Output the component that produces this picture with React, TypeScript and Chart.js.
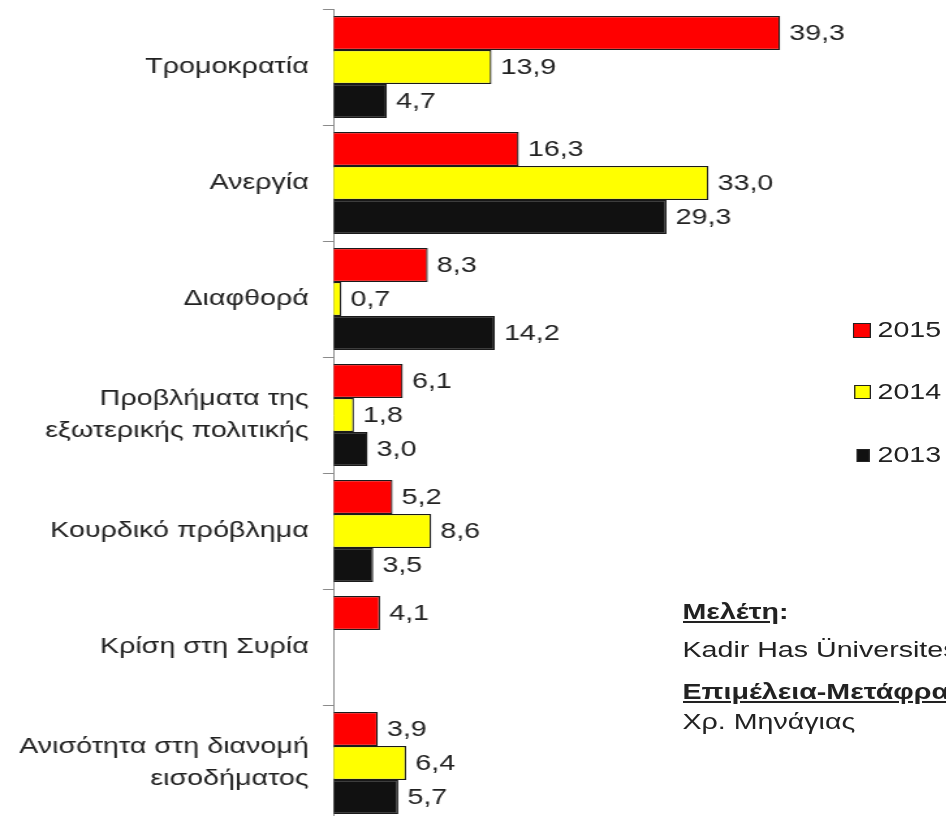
import React, { useEffect, useRef } from "react";
import { Chart, registerables } from "chart.js";

Chart.register(...registerables);

const categories: (string | string[])[] = [
  "Τρομοκρατία",
  "Ανεργία",
  "Διαφθορά",
  ["Προβλήματα της", "εξωτερικής πολιτικής"],
  "Κουρδικό πρόβλημα",
  "Κρίση στη Συρία",
  ["Ανισότητα στη διανομή", "εισοδήματος"],
];
const series2015: (number | null)[] = [39.3, 16.3, 8.3, 6.1, 5.2, 4.1, 3.9];
const series2014: (number | null)[] = [13.9, 33.0, 0.7, 1.8, 8.6, null, 6.4];
const series2013: (number | null)[] = [4.7, 29.3, 14.2, 3.0, 3.5, null, 5.7];
const seriesNames = ["2015", "2014", "2013"];
const seriesColors = ["#ff0000", "#ffff00", "#111111"];

const S = 1.3; // horizontal stretch of the reference
const W = 946 / S;
const FONT = "'Liberation Sans', Arial, sans-serif";

const valueLabels = {
  id: "valueLabels",
  afterDatasetsDraw(chart: any) {
    const ctx = chart.ctx;
    ctx.save();
    ctx.font = `22px ${FONT}`;
    ctx.fillStyle = "#222";
    ctx.textAlign = "left";
    ctx.textBaseline = "middle";
    chart.data.datasets.forEach((ds: any, di: number) => {
      const meta = chart.getDatasetMeta(di);
      meta.data.forEach((bar: any, i: number) => {
        const v = ds.data[i];
        if (v === null || v === undefined) return;
        const txt = v.toFixed(1).replace(".", ",");
        ctx.fillText(txt, bar.x + 7, bar.y + 1);
      });
    });
    ctx.restore();
  },
};

function App() {
  const ref = useRef<HTMLCanvasElement | null>(null);
  useEffect(() => {
    if (!ref.current) return;
    const chart = new Chart(ref.current, {
      type: "bar",
      data: {
        labels: categories,
        datasets: [series2015, series2014, series2013].map((d, i) => ({
          label: seriesNames[i],
          data: d,
          backgroundColor: seriesColors[i],
          borderColor: "#1a1a1a",
          borderWidth: 1.3,
          categoryPercentage: 0.88,
          barPercentage: 1.0,
        })),
      },
      options: {
        indexAxis: "y",
        animation: false,
        responsive: true,
        maintainAspectRatio: false,
        layout: { padding: { top: 9, right: 35, left: 0, bottom: 0 } },
        plugins: {
          legend: { display: false },
          tooltip: { enabled: false },
        },
        scales: {
          x: { display: false, min: 0, max: 50 },
          y: {
            afterFit: (s: any) => {
              s.width = 333 / S;
              s.paddingTop = 0;
              s.paddingBottom = 0;
            },
            border: { display: true, color: "#8a8a8a", width: 1 },
            grid: {
              display: true,
              drawOnChartArea: false,
              drawTicks: true,
              tickLength: 8,
              color: "#8a8a8a",
              offset: true,
            },
            ticks: {
              color: "#222",
              padding: 11,
              font: { family: FONT, size: 22, lineHeight: 1.45 },
            },
          },
        },
      },
      plugins: [valueLabels],
    } as any);
    return () => chart.destroy();
  }, []);

  const legendItems = [
    { name: "2015", color: "#ff0000", y: 330, w: 14, h: 15, x: 656 },
    { name: "2014", color: "#ffff00", y: 392, w: 13, h: 14, x: 657 },
    { name: "2013", color: "#111111", y: 455, w: 10, h: 13, x: 659 },
  ];
  const textStyle: React.CSSProperties = {
    position: "absolute",
    fontFamily: FONT,
    fontSize: 22,
    lineHeight: "26px",
    color: "#222",
    whiteSpace: "nowrap",
  };

  return (
    <div
      style={{
        position: "fixed",
        left: 0,
        top: 0,
        width: 946,
        height: 816,
        overflow: "hidden",
        background: "#fff",
      }}
    >
      <div
        style={{
          position: "absolute",
          left: 0,
          top: 0,
          width: W,
          height: 821,
          transform: `scaleX(${S})`,
          transformOrigin: "0 0",
        }}
      >
        <div style={{ position: "absolute", left: 0, top: 0, width: W, height: 821 }}>
          <canvas ref={ref} />
        </div>
        {legendItems.map((it) => (
          <React.Fragment key={it.name}>
            <div
              style={{
                position: "absolute",
                left: it.x,
                top: it.y - it.h / 2,
                width: it.w,
                height: it.h,
                background: it.color,
                border: "1px solid #222",
                boxSizing: "border-box",
              }}
            />
            <div style={{ ...textStyle, left: 675, top: it.y - 13 }}>{it.name}</div>
          </React.Fragment>
        ))}
        <div style={{ ...textStyle, left: 525, top: 612 - 13, fontWeight: "bold" }}>
          <span style={{ textDecoration: "underline" }}>Μελέτη</span>:
        </div>
        <div style={{ ...textStyle, left: 525, top: 650 - 13 }}>Kadir Has Üniversitesi</div>
        <div
          style={{
            ...textStyle,
            left: 525,
            top: 692 - 13,
            fontWeight: "bold",
            textDecoration: "underline",
          }}
        >
          Επιμέλεια-Μετάφραση:
        </div>
        <div style={{ ...textStyle, left: 525, top: 722 - 13 }}>Χρ. Μηνάγιας</div>
      </div>
    </div>
  );
}

export default App;
